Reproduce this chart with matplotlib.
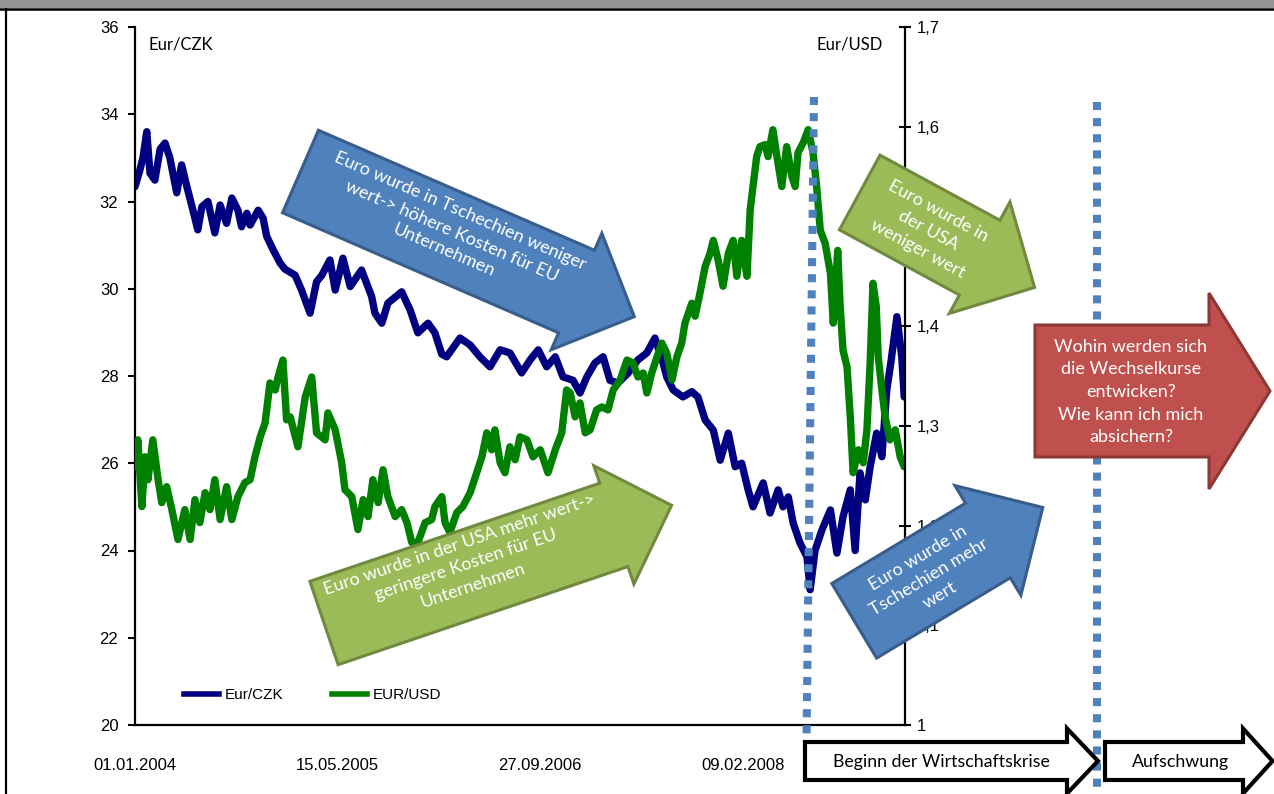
import numpy as np
import matplotlib.pyplot as plt
from matplotlib.patches import Polygon, Rectangle
from matplotlib.lines import Line2D

plt.rcParams['font.family'] = ['Liberation Sans', 'DejaVu Sans']

# days since 01.01.2004
czk_days = [0, 12, 20, 29, 37, 49, 62, 74, 86, 103,
            115, 128, 143, 155, 165, 180, 197, 210, 226, 239,
            254, 263, 276, 284, 304, 316, 325, 341, 358, 370,
            395, 411, 432, 448, 461, 481, 494, 513, 531, 559,
            584, 592, 609, 624, 658, 679, 698, 723, 740, 757,
            769, 802, 827, 851, 876, 901, 925, 954, 975, 995,
            1016, 1037, 1056, 1081, 1098, 1115, 1135, 1155, 1172, 1192,
            1217, 1241, 1263, 1283, 1303, 1312, 1328, 1352, 1374, 1389,
            1407, 1427, 1444, 1464, 1481, 1497, 1513, 1525, 1550, 1567,
            1587, 1599, 1612, 1624, 1641, 1658, 1666, 1678, 1695, 1716,
            1732, 1747, 1765, 1777, 1789, 1802, 1814, 1830, 1843, 1855,
            1865, 1880, 1892, 1898]
czk_rate = [32.34, 32.72, 33.02, 33.6, 32.65, 32.49, 33.2, 33.34, 33.0, 32.2,
            32.84, 32.34, 31.8, 31.35, 31.88, 32.0, 31.28, 31.92, 31.5, 32.08,
            31.8, 31.42, 31.73, 31.46, 31.8, 31.62, 31.2, 30.89, 30.59, 30.45,
            30.31, 29.97, 29.44, 30.16, 30.31, 30.66, 29.97, 30.7, 30.05, 30.43,
            29.82, 29.44, 29.21, 29.67, 29.93, 29.51, 28.99, 29.21, 28.99, 28.5,
            28.44, 28.87, 28.71, 28.44, 28.21, 28.6, 28.53, 28.07, 28.37, 28.6,
            28.21, 28.44, 27.98, 27.9, 27.61, 27.98, 28.3, 28.44, 27.9, 27.84,
            28.07, 28.37, 28.53, 28.87, 28.3, 27.98, 27.68, 27.52, 27.64, 27.52,
            26.99, 26.76, 26.07, 26.69, 25.92, 26.0, 25.39, 25.0, 25.55, 24.86,
            25.39, 25.0, 25.23, 24.63, 24.17, 23.86, 23.1, 24.0, 24.47, 24.93,
            23.94, 24.77, 25.39, 24.0, 25.78, 25.16, 25.92, 26.69, 26.15, 27.68,
            28.3, 29.36, 28.44, 27.52]

usd_days = [0, 7, 17, 25, 32, 44, 57, 66, 78, 91,
            106, 123, 136, 148, 160, 173, 185, 197, 210, 226,
            239, 254, 271, 284, 296, 309, 321, 333, 346, 353,
            365, 374, 383, 402, 420, 436, 448, 469, 476, 494,
            510, 518, 535, 550, 563, 575, 587, 600, 612, 624,
            642, 658, 671, 683, 698, 716, 732, 740, 757, 765,
            777, 794, 809, 827, 843, 856, 868, 880, 888, 901,
            913, 925, 938, 950, 967, 982, 1000, 1019, 1037, 1053,
            1065, 1074, 1086, 1098, 1111, 1123, 1139, 1152, 1167, 1180,
            1197, 1214, 1229, 1241, 1254, 1263, 1275, 1288, 1300, 1312,
            1325, 1337, 1349, 1357, 1374, 1382, 1394, 1407, 1419, 1427,
            1439, 1451, 1464, 1476, 1485, 1497, 1510, 1518, 1528, 1534,
            1542, 1555, 1562, 1574, 1584, 1596, 1608, 1621, 1629, 1636,
            1649, 1661, 1673, 1682, 1691, 1703, 1716, 1723, 1734, 1740,
            1747, 1757, 1765, 1772, 1785, 1797, 1806, 1814, 1821, 1829,
            1834, 1843, 1851, 1863, 1876, 1888, 1898]
usd_rate = [1.259, 1.286, 1.219, 1.269, 1.246, 1.286, 1.246, 1.223, 1.239, 1.216,
            1.186, 1.216, 1.186, 1.226, 1.203, 1.233, 1.216, 1.246, 1.206, 1.239,
            1.206, 1.229, 1.243, 1.246, 1.269, 1.289, 1.303, 1.343, 1.336, 1.349,
            1.366, 1.306, 1.309, 1.279, 1.329, 1.349, 1.293, 1.286, 1.313, 1.296,
            1.263, 1.236, 1.229, 1.196, 1.226, 1.209, 1.246, 1.223, 1.256, 1.229,
            1.209, 1.216, 1.203, 1.183, 1.183, 1.203, 1.206, 1.219, 1.229, 1.203,
            1.193, 1.213, 1.219, 1.233, 1.253, 1.269, 1.293, 1.276, 1.296, 1.263,
            1.253, 1.279, 1.266, 1.289, 1.286, 1.269, 1.276, 1.253, 1.276, 1.293,
            1.336, 1.333, 1.309, 1.323, 1.293, 1.296, 1.316, 1.319, 1.316, 1.336,
            1.346, 1.366, 1.363, 1.349, 1.353, 1.333, 1.353, 1.369, 1.383, 1.373,
            1.346, 1.369, 1.383, 1.403, 1.423, 1.410, 1.433, 1.460, 1.473, 1.486,
            1.466, 1.440, 1.473, 1.486, 1.450, 1.486, 1.450, 1.517, 1.550, 1.570,
            1.580, 1.582, 1.570, 1.597, 1.570, 1.540, 1.580, 1.550, 1.540, 1.574,
            1.584, 1.597, 1.574, 1.540, 1.496, 1.483, 1.453, 1.403, 1.476, 1.420,
            1.376, 1.359, 1.309, 1.253, 1.276, 1.263, 1.296, 1.363, 1.443, 1.420,
            1.369, 1.336, 1.309, 1.286, 1.296, 1.269, 1.259]

date_ticks = [0, 500, 1000, 1500]
date_labels = ['01.01.2004', '15.05.2005', '27.09.2006', '09.02.2008']
czk_ticks = [20, 22, 24, 26, 28, 30, 32, 34, 36]
usd_ticks = [1.0, 1.1, 1.2, 1.3, 1.4, 1.5, 1.6, 1.7]
usd_labels = ['1', '1,1', '1,2', '1,3', '1,4', '1,5', '1,6', '1,7']

W, H = 1274, 794
fig = plt.figure(figsize=(W / 100, H / 100), dpi=100)

# main chart, placed at the pixel box of the original plot area
ax = fig.add_axes([135 / W, 1 - 725 / H, 770 / W, 698 / H])
ax.plot(czk_days, czk_rate, color='#000080', lw=5.3, solid_joinstyle='round', solid_capstyle='round')
ax.set_xlim(0, 1900)
ax.set_ylim(20, 36)
ax.set_yticks(czk_ticks)
ax.set_xticks(date_ticks)
ax.set_xticklabels(date_labels)
ax.tick_params(axis='y', direction='out', length=5, width=1.5, pad=7, labelsize=12)
ax.tick_params(axis='x', length=0, pad=24, labelsize=12)
for s in ['top', 'right']:
    ax.spines[s].set_visible(False)
for s in ['left', 'bottom']:
    ax.spines[s].set_linewidth(1.6)

ax2 = ax.twinx()
ax2.plot(usd_days, usd_rate, color='#008000', lw=5.3, solid_joinstyle='round', solid_capstyle='round')
ax2.set_ylim(1.0, 1.7)
ax2.set_yticks(usd_ticks)
ax2.set_yticklabels(usd_labels)
ax2.tick_params(axis='y', direction='inout', length=9, width=1.5, pad=4, labelsize=12)
for s in ['top', 'left', 'bottom']:
    ax2.spines[s].set_visible(False)
ax2.spines['right'].set_linewidth(1.6)

handles = [Line2D([], [], color='#000080', lw=4), Line2D([], [], color='#008000', lw=4)]
ax2.legend(handles, ['Eur/CZK', 'EUR/USD'], loc='center left', bbox_to_anchor=(0.0636, 0.043),
           bbox_transform=ax.transAxes, ncol=2, frameon=False, handlelength=2.3,
           handletextpad=0.35, columnspacing=3.2, borderaxespad=0, borderpad=0, fontsize=11)

# overlay in pixel coordinates for frame, shapes and notes
ov = fig.add_axes([0, 0, 1, 1])
ov.set_xlim(0, W)
ov.set_ylim(H, 0)
ov.axis('off')
ov.patch.set_alpha(0)

ov.add_patch(Rectangle((0, 0), W, 7.5, color='#969696', lw=0))
ov.plot([0, W], [8.5, 8.5], color='black', lw=1.8)
ov.plot([6, 6], [8.5, H], color='black', lw=1.6)

ov.text(149, 45, 'Eur/CZK', family='Lato', fontsize=12, va='center', ha='left')
ov.text(883, 45, 'Eur/USD', family='Lato', fontsize=12, va='center', ha='right')


def block_arrow(tail, angle, body_len, body_w, head_len, head_w, face, edge, lw, z=3):
    a = np.radians(angle)
    d = np.array([np.cos(a), np.sin(a)])
    n = np.array([-np.sin(a), np.cos(a)])
    t = np.array(tail, dtype=float)
    pts = [t - n * body_w / 2, t + d * body_len - n * body_w / 2,
           t + d * body_len - n * head_w / 2, t + d * (body_len + head_len),
           t + d * body_len + n * head_w / 2, t + d * body_len + n * body_w / 2,
           t + n * body_w / 2]
    ov.add_patch(Polygon(pts, closed=True, facecolor=face, edgecolor=edge, lw=lw,
                         joinstyle='miter', zorder=z))


def note(x, y, txt, angle, size=13, color='white', spacing=1.42):
    ov.text(x, y, txt, rotation=-angle, rotation_mode='anchor', ha='center', va='center',
            family='Lato', fontsize=size, color=color, linespacing=spacing, zorder=5)


blue, blue_e = '#4F81BD', '#385D8A'
green, green_e = '#9BBB59', '#71893F'
red, red_e = '#C0504D', '#8C3836'

# dotted markers
ov.plot([814, 806.5], [97, 742], color=blue, lw=5.8, dashes=(1, 1), zorder=2)
ov.plot([1097, 1097], [102, 790], color=blue, lw=5.8, dashes=(1, 1), zorder=2)

block_arrow((300.5, 171.5), 23.5, 301, 90, 63, 127, blue, blue_e, 2.2)
note(452, 231, 'Euro wurde in Tschechien weniger\nwert-> höhere Kosten für EU\nUnternehmen', 23.5)

block_arrow((324, 623), -18.7, 306, 88, 61, 125, green, green_e, 2.2)
note(466, 565, 'Euro wurde in der USA mehr wert->\ngeringere Kosten für EU\nUnternehmen', -18.7)

block_arrow((859.7, 192.5), 28.5, 136.5, 85, 62.5, 127, green, green_e, 2.2)
note(928, 230, 'Euro wurde in\nder USA\nweniger wert', 28.5)

block_arrow((854.2, 620.8), -31, 156, 87, 64, 128, blue, blue_e, 2.2)
note(929, 577, 'Euro wurde in\nTschechien mehr\nwert', -31)

block_arrow((1035, 391), 0, 174, 132, 61, 196, red, red_e, 2.2)
note(1131, 392, 'Wohin werden sich\ndie Wechselkurse\nentwicken?\nWie kann ich mich\nabsichern?', 0,
     spacing=1.5)

block_arrow((805, 761), 0, 262, 38, 31, 65, 'white', 'black', 3)
note(941, 762, 'Beginn der Wirtschaftskrise', 0, size=12.8, color='black')
block_arrow((1105, 761), 0, 138, 38, 29.5, 65, 'white', 'black', 3)
note(1181, 762, 'Aufschwung', 0, size=12.8, color='black')

fig.savefig('out.png', dpi=100)
